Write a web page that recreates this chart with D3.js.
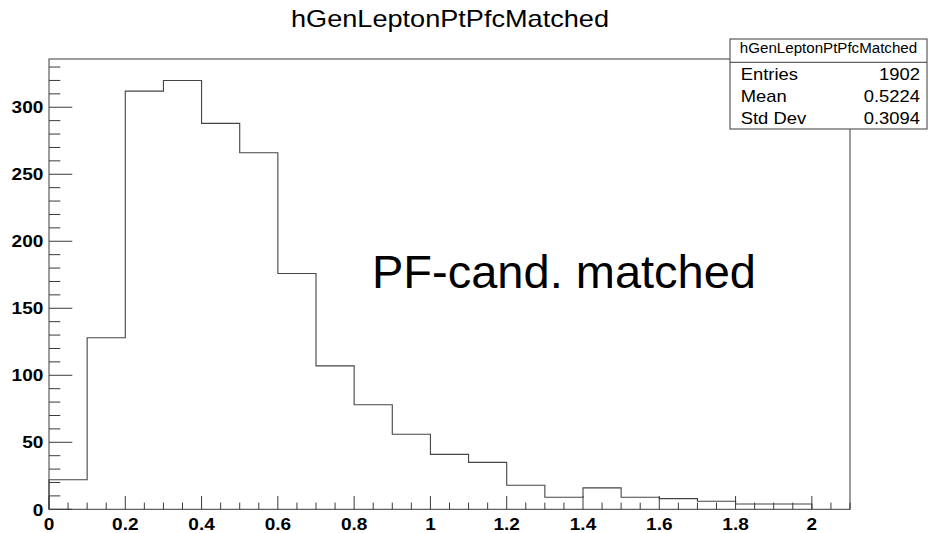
<!DOCTYPE html>
<html>
<head>
<meta charset="utf-8">
<script src="https://cdn.jsdelivr.net/npm/d3@7"></script>
<style>
  html, body { margin: 0; padding: 0; background: #fff; }
  svg { display: block; }
  text { font-family: "Liberation Sans", Arial, Helvetica, sans-serif; fill: #000; }
</style>
</head>
<body>
<svg id="chart" width="928" height="533"></svg>
<script>
// ---- data ----
const chartTitle = "hGenLeptonPtPfcMatched";
const binEdges = [0, 0.1, 0.2, 0.3, 0.4, 0.5, 0.6, 0.7, 0.8, 0.9, 1.0, 1.1, 1.2, 1.3, 1.4, 1.5, 1.6, 1.7, 1.8, 1.9, 2.0];
const binCounts = [22, 128, 312, 320, 288, 266, 176, 107, 78, 56, 41, 35, 18, 9, 16, 9, 8, 6, 4, 4];
const xTickValues = [0, 0.2, 0.4, 0.6, 0.8, 1.0, 1.2, 1.4, 1.6, 1.8, 2.0];
const yTickValues = [0, 50, 100, 150, 200, 250, 300];
const statsTitle = "hGenLeptonPtPfcMatched";
const statsLabels = ["Entries", "Mean", "Std Dev"];
const statsValues = ["1902", "0.5224", "0.3094"];
const annotation = "PF-cand. matched";

// ---- layout ----
const svg = d3.select("#chart");
const frame = { x0: 49, x1: 850, y0: 59, y1: 509.3 };
const lineColor = "#3a3a3a";

const x = d3.scaleLinear().domain([0, 2.1]).range([frame.x0, frame.x1]);
const y = d3.scaleLinear().domain([0, d3.max(binCounts) * 1.05]).range([frame.y1, frame.y0]);

// frame
svg.append("rect")
  .attr("x", frame.x0).attr("y", frame.y0)
  .attr("width", frame.x1 - frame.x0).attr("height", frame.y1 - frame.y0)
  .attr("fill", "none").attr("stroke", lineColor).attr("stroke-width", 1);

// histogram outline
const pts = [[x(binEdges[0]), y(0)]];
binCounts.forEach((c, i) => {
  pts.push([x(binEdges[i]), y(c)]);
  pts.push([x(binEdges[i + 1]), y(c)]);
});
pts.push([x(binEdges[binEdges.length - 1]), y(0)]);
svg.append("path")
  .attr("d", d3.line()(pts))
  .attr("fill", "none").attr("stroke", "#444").attr("stroke-width", 1.1);

// x ticks
const xMinor = d3.range(0, 2.1 + 1e-9, 0.05);
const gx = svg.append("g");
xMinor.forEach(v => {
  const isMajor = Math.abs(v / 0.2 - Math.round(v / 0.2)) < 1e-6;
  gx.append("line")
    .attr("x1", x(v)).attr("x2", x(v))
    .attr("y1", frame.y1).attr("y2", frame.y1 - (isMajor ? 13.3 : 6.7))
    .attr("stroke", lineColor).attr("stroke-width", 1);
});
const fmtX = d => (Math.round(d * 10) / 10).toString();
xTickValues.forEach(v => {
  svg.append("text")
    .attr("transform", `translate(${x(v)},530) scale(1.12,1)`)
    .attr("text-anchor", "middle")
    .attr("font-size", 17).attr("font-weight", "bold")
    .text(fmtX(v));
});

// y ticks
const yMinor = d3.range(0, 331, 10);
yMinor.forEach(v => {
  const isMajor = v % 50 === 0;
  svg.append("line")
    .attr("x1", frame.x0).attr("x2", frame.x0 + (isMajor ? 23.3 : 11.3))
    .attr("y1", y(v)).attr("y2", y(v))
    .attr("stroke", lineColor).attr("stroke-width", 1);
});
yTickValues.forEach(v => {
  svg.append("text")
    .attr("transform", `translate(43.3,${y(v) + 6.2}) scale(1.12,1)`)
    .attr("text-anchor", "end")
    .attr("font-size", 17).attr("font-weight", "bold")
    .text(v);
});

// title
svg.append("text")
  .attr("transform", "translate(450,26.7) scale(1.13,1)")
  .attr("text-anchor", "middle")
  .attr("font-size", 24)
  .text(chartTitle);

// annotation
svg.append("text")
  .attr("x", 372).attr("y", 288.3)
  .attr("font-size", 47)
  .text(annotation);

// stats box
const box = { x0: 730, x1: 927, y0: 39, ysep: 62.3, y1: 129 };
svg.append("rect")
  .attr("x", box.x0).attr("y", box.y0)
  .attr("width", box.x1 - box.x0).attr("height", box.y1 - box.y0)
  .attr("fill", "#fff").attr("stroke", lineColor).attr("stroke-width", 1);
svg.append("line")
  .attr("x1", box.x0).attr("x2", box.x1)
  .attr("y1", box.ysep).attr("y2", box.ysep)
  .attr("stroke", lineColor).attr("stroke-width", 1);
svg.append("text")
  .attr("transform", `translate(${(box.x0 + box.x1) / 2},53.3) scale(1.08,1)`)
  .attr("text-anchor", "middle")
  .attr("font-size", 14)
  .text(statsTitle);
const rowBase = [80, 102.3, 124.3];
statsLabels.forEach((lab, i) => {
  svg.append("text")
    .attr("transform", `translate(740.7,${rowBase[i]}) scale(1.15,1)`)
    .attr("font-size", 16)
    .text(lab);
  svg.append("text")
    .attr("transform", `translate(920,${rowBase[i]}) scale(1.15,1)`)
    .attr("text-anchor", "end")
    .attr("font-size", 16)
    .text(statsValues[i]);
});
</script>
</body>
</html>
